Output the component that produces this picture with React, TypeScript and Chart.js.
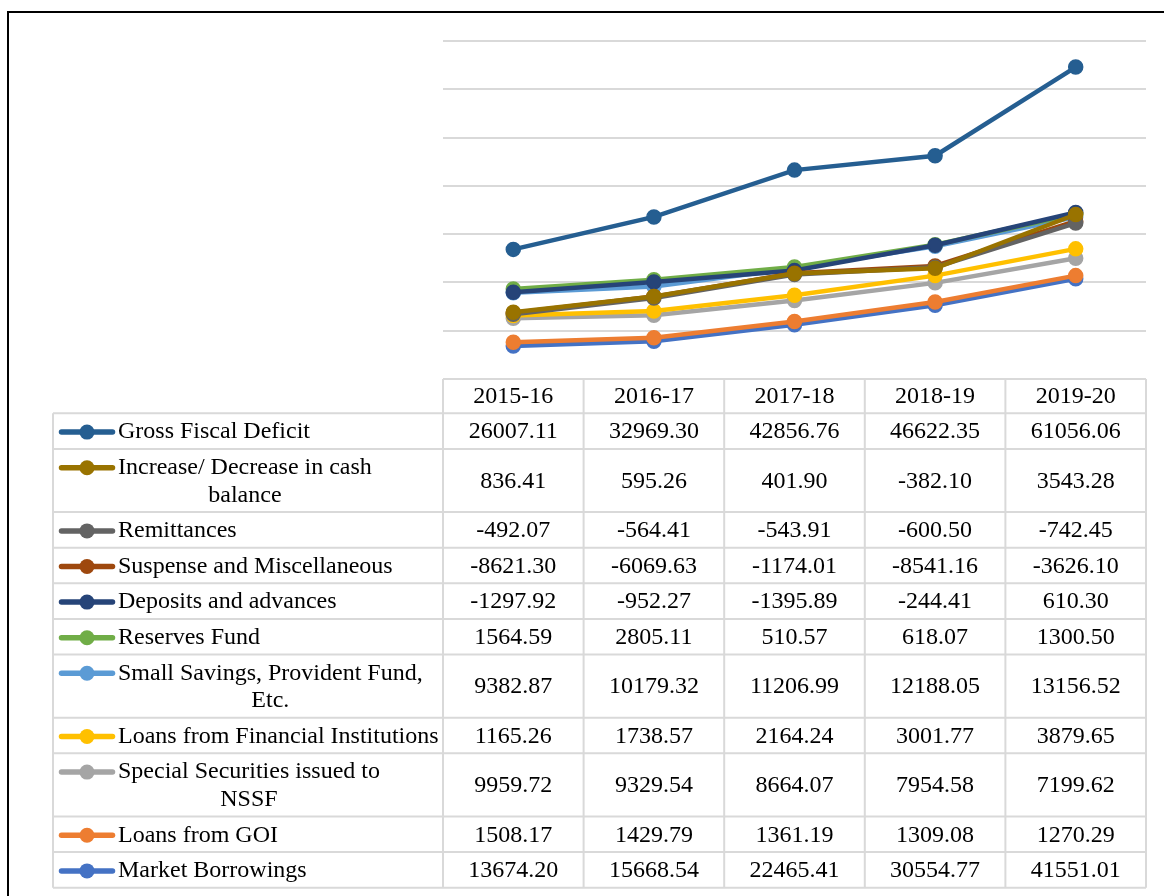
import React, { useEffect, useRef } from "react";
import { Chart, registerables } from "chart.js";

Chart.register(...registerables);

// ---- Data (values from the data table) ----
const years = ["2015-16", "2016-17", "2017-18", "2018-19", "2019-20"];

const marketBorrowings = [13674.2, 15668.54, 22465.41, 30554.77, 41551.01];
const loansFromGOI = [1508.17, 1429.79, 1361.19, 1309.08, 1270.29];
const specialSecuritiesNSSF = [9959.72, 9329.54, 8664.07, 7954.58, 7199.62];
const loansFromFinancialInstitutions = [1165.26, 1738.57, 2164.24, 3001.77, 3879.65];
const smallSavingsPF = [9382.87, 10179.32, 11206.99, 12188.05, 13156.52];
const reservesFund = [1564.59, 2805.11, 510.57, 618.07, 1300.5];
const depositsAdvances = [-1297.92, -952.27, -1395.89, -244.41, 610.3];
const suspenseMisc = [-8621.3, -6069.63, -1174.01, -8541.16, -3626.1];
const remittances = [-492.07, -564.41, -543.91, -600.5, -742.45];
const cashBalanceChange = [836.41, 595.26, 401.9, -382.1, 3543.28];
const grossFiscalDeficit = [26007.11, 32969.3, 42856.76, 46622.35, 61056.06];

const seriesNames = [
  "Market Borrowings",
  "Loans from GOI",
  "Special Securities issued to NSSF",
  "Loans from Financial Institutions",
  "Small Savings, Provident Fund, Etc.",
  "Reserves Fund",
  "Deposits and advances",
  "Suspense and Miscellaneous",
  "Remittances",
  "Increase/ Decrease in cash balance",
  "Gross Fiscal Deficit",
];
const seriesValues = [
  marketBorrowings,
  loansFromGOI,
  specialSecuritiesNSSF,
  loansFromFinancialInstitutions,
  smallSavingsPF,
  reservesFund,
  depositsAdvances,
  suspenseMisc,
  remittances,
  cashBalanceChange,
  grossFiscalDeficit,
];
const seriesColors = [
  "#4472C4",
  "#ED7D31",
  "#A5A5A5",
  "#FFC000",
  "#5B9BD5",
  "#70AD47",
  "#264478",
  "#9E480E",
  "#636363",
  "#997300",
  "#255E91",
];

const yMin = 0;
const yMax = 140000;
const yStep = 20000;

const FONT = '24px "Liberation Serif", "Times New Roman", serif';
const GRID = "#D9D9D9";

// Draw datasets in series order (later series on top), like Excel
const drawOrderPlugin = {
  id: "drawOrder",
  beforeDatasetsDraw(chart: any) {
    for (let i = 0; i < chart.data.datasets.length; i++) {
      const meta = chart.getDatasetMeta(i);
      if (meta.visible) meta.controller.draw();
    }
    return false;
  },
};

function wrapText(ctx: CanvasRenderingContext2D, text: string, maxW: number) {
  const words = text.split(" ");
  const lines: string[] = [];
  let cur = "";
  for (const w of words) {
    const t = cur ? cur + " " + w : w;
    if (cur && ctx.measureText(t).width > maxW) {
      lines.push(cur);
      cur = w;
    } else cur = t;
  }
  if (cur) lines.push(cur);
  return lines;
}

const dataTablePlugin = {
  id: "dataTable",
  afterDraw(chart: any) {
    const ctx: CanvasRenderingContext2D = chart.ctx;
    const area = chart.chartArea;
    const xs = chart.scales.x;
    const n = years.length;
    const colW = (area.right - area.left) / n;
    const tableLeft = 53;
    const keyLeft = 59;
    const keyRight = 115;
    const textLeft = 118;
    const headerTop = area.bottom;
    const headerH = 34.3;
    const singleH = 35.6;
    const lineH = 27.6;

    ctx.save();
    ctx.font = FONT;
    const rows = [];
    let y = headerTop + headerH;
    for (let s = seriesNames.length - 1; s >= 0; s--) {
      const lines = wrapText(ctx, seriesNames[s], 322);
      const h = singleH + (lines.length - 1) * lineH;
      rows.push({ s, lines, top: y, h });
      y += h;
    }
    const tableBottom = y;

    // grid lines
    ctx.strokeStyle = GRID;
    ctx.lineWidth = 2;
    ctx.beginPath();
    ctx.moveTo(area.left, headerTop);
    ctx.lineTo(area.right, headerTop);
    for (const r of rows) {
      ctx.moveTo(tableLeft, r.top);
      ctx.lineTo(area.right, r.top);
    }
    ctx.moveTo(tableLeft, tableBottom);
    ctx.lineTo(area.right, tableBottom);
    for (let i = 0; i <= n; i++) {
      const x = area.left + i * colW;
      ctx.moveTo(x, headerTop);
      ctx.lineTo(x, tableBottom);
    }
    ctx.moveTo(tableLeft, rows[0].top);
    ctx.lineTo(tableLeft, tableBottom);
    ctx.stroke();

    ctx.fillStyle = "#000";
    ctx.textBaseline = "middle";
    ctx.textAlign = "center";
    // header
    for (let i = 0; i < n; i++) {
      ctx.fillText(years[i], xs.getPixelForTick(i), headerTop + headerH / 2 + 1);
    }
    // rows
    for (const r of rows) {
      const cy = r.top + r.h / 2 + 1;
      const vals = seriesValues[r.s];
      ctx.textAlign = "center";
      for (let i = 0; i < n; i++) {
        ctx.fillText(vals[i].toFixed(2), xs.getPixelForTick(i), cy);
      }
      const firstY = cy - ((r.lines.length - 1) * lineH) / 2;
      // legend key
      const color = seriesColors[r.s];
      ctx.strokeStyle = color;
      ctx.lineWidth = 5.5;
      ctx.lineCap = "round";
      ctx.beginPath();
      ctx.moveTo(keyLeft + 2.5, firstY);
      ctx.lineTo(keyRight - 2.5, firstY);
      ctx.stroke();
      ctx.fillStyle = color;
      ctx.beginPath();
      ctx.arc((keyLeft + keyRight) / 2, firstY, 7.5, 0, Math.PI * 2);
      ctx.fill();
      // label text
      ctx.fillStyle = "#000";
      const w0 = ctx.measureText(r.lines[0]).width;
      const cx = textLeft + w0 / 2;
      ctx.textAlign = "center";
      r.lines.forEach((ln: string, k: number) => {
        ctx.fillText(ln, cx, firstY + k * lineH);
      });
    }
    ctx.restore();
  },
};

export default function App() {
  const ref = useRef<HTMLCanvasElement>(null);
  useEffect(() => {
    if (!ref.current) return;
    const chart = new Chart(ref.current, {
      type: "line",
      data: {
        labels: years,
        datasets: seriesNames.map((name, i) => ({
          label: name,
          data: seriesValues[i],
          borderColor: seriesColors[i],
          backgroundColor: seriesColors[i],
          pointBackgroundColor: seriesColors[i],
          pointBorderColor: seriesColors[i],
          borderWidth: 4.5,
          pointRadius: 7,
          pointBorderWidth: 1.5,
          tension: 0,
          fill: false,
        })),
      },
      options: {
        responsive: false,
        maintainAspectRatio: false,
        animation: false,
        layout: { padding: { left: 443, right: 18, top: 41, bottom: 517 } },
        plugins: {
          legend: { display: false },
          tooltip: { enabled: false },
        },
        scales: {
          x: { display: false, offset: true },
          y: {
            stacked: "single" as any,
            min: yMin,
            max: yMax,
            ticks: { display: false, stepSize: yStep },
            border: { display: false },
            grid: { color: GRID, lineWidth: 2, drawTicks: false },
            afterFit: (s: any) => {
              s.width = 0;
            },
          },
        },
      },
      plugins: [drawOrderPlugin, dataTablePlugin],
    });
    return () => chart.destroy();
  }, []);
  return (
    <>
      <div
        style={{
          position: "fixed",
          left: 7,
          top: 11,
          width: 1300,
          height: 1100,
          border: "2px solid #000",
          boxSizing: "border-box",
        }}
      />
      <canvas
        ref={ref}
        width={1164}
        height={896}
        style={{ position: "fixed", left: 0, top: 0, width: 1164, height: 896 }}
      />
    </>
  );
}
